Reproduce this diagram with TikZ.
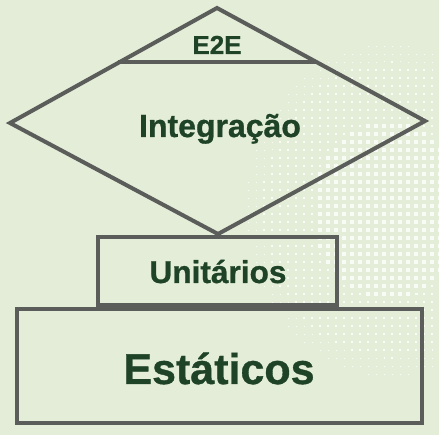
\documentclass[tikz,border=0pt]{standalone}
\usepackage{fontspec}
\setmainfont{Liberation Sans}[BoldFeatures={FakeBold=0.8}]
\definecolor{bgc}{HTML}{E4EDD8}
\definecolor{linec}{HTML}{5A5D59}
\definecolor{txtc}{HTML}{1E4326}
\tikzset{
  shapeline/.style={draw=linec, line width=4pt, line join=miter},
  lbl/.style={text=txtc, font=\bfseries, inner sep=0pt, anchor=base},
}
\begin{document}
\begin{tikzpicture}[x=1pt,y=-1pt]
\useasboundingbox (0,0) rectangle (439,435);
\fill[bgc] (0,0) rectangle (439,435);
% halftone dots
\foreach \i in {0,...,25} {
  \foreach \j in {0,...,52} {
    \pgfmathsetmacro\px{240+8*\i}
    \pgfmathsetmacro\py{6+8*\j}
    \pgfmathsetmacro\s{max(0,min(4.2,6*(1-sqrt(((\px-390)/155)^2+((\py-210)/178)^2))))}
    \ifdim\s pt>0.4pt
      \fill[white,opacity=0.8] (\px-\s/2,\py-\s/2) rectangle ++(\s,\s);
    \fi
  }
}
% diamond
\coordinate (dT) at (217,8);
\coordinate (dR) at (425,121);
\coordinate (dB) at (218,234);
\coordinate (dL) at (10,123);
\coordinate (eL) at (118,62);
\coordinate (eR) at (317,62);
\draw[shapeline] (dT) -- (dR) -- (dB) -- (dL) -- cycle;
\draw[shapeline] (eL) -- (eR);
% boxes
\draw[shapeline] (98,237) rectangle (337,305);
\draw[shapeline] (17,309) rectangle (422,423);
% labels
\node[lbl, font=\fontsize{26}{26}\bfseries] (e2e) at (217,54) {E2E};
\node[lbl, font=\fontsize{32}{32}\bfseries] (integ) at (220,137) {Integração};
\node[lbl, font=\fontsize{31.6}{31.6}\bfseries] (unit) at (218,283) {Unitários};
\node[lbl, font=\fontsize{43}{43}\bfseries] (estat) at (219,384) {Estáticos};
\end{tikzpicture}
\end{document}
